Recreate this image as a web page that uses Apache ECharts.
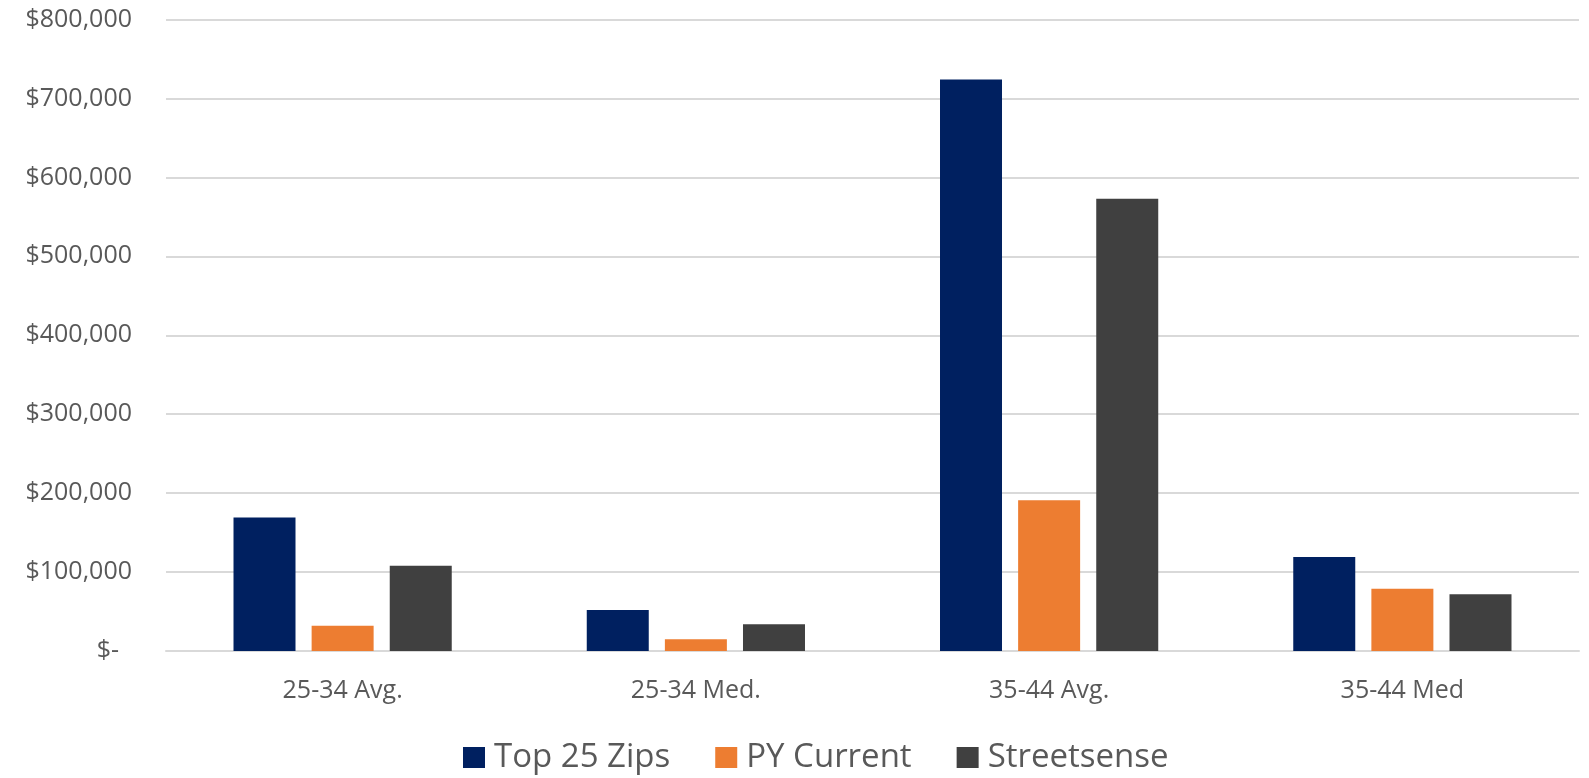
<!DOCTYPE html>
<html>
<head>
<meta charset="utf-8">
<script src="https://cdn.jsdelivr.net/npm/echarts@6/dist/echarts.min.js"></script>
<style>
    html, body { margin: 0; padding: 0; background: #fff; }
    #chart1 { width: 1589px; height: 778px; }
</style>
</head>
<body>
<div id="chart1"></div>
<script>
var categories = ["25-34 Avg.", "25-34 Med.", "35-44 Avg.", "35-44 Med"];
var seriesNames = ["Top 25 Zips", "PY Current", "Streetsense"];
var top25 = [169000, 52000, 724000, 119000];
var pyCurrent = [32000, 15000, 191000, 79000];
var streetsense = [108000, 34000, 573000, 72000];
var colors = ["#002060", "#ED7D31", "#404040"];

var mychart = echarts.init(document.getElementById("chart1"));

function money(v) {
    if (v === 0) return "{z|$-}";
    return "$" + v.toLocaleString("en-US");
}

var option = {
    animation: false,
    color: colors,
    textStyle: { fontFamily: "Open Sans" },
    grid: {
        left: 166,
        right: 10,
        top: 19.5,
        bottom: 127
    },
    legend: {
        data: seriesNames,
        left: 458,
        top: 736,
        itemWidth: 22,
        itemHeight: 21,
        itemGap: 45,
        icon: "rect",
        textStyle: {
            color: "#595959",
            fontSize: 33,
            padding: [0, 0, 0, 4]
        }
    },
    xAxis: [
        {
            type: "category",
            data: categories,
            axisTick: { show: false },
            axisLine: { lineStyle: { color: "#d9d9d9", width: 2 } },
            axisLabel: {
                color: "#595959",
                fontSize: 25,
                margin: 27
            }
        }
    ],
    yAxis: [
        {
            type: "value",
            min: 0,
            max: 800000,
            interval: 100000,
            axisLine: { show: false },
            axisTick: { show: false },
            splitLine: { lineStyle: { color: "#d9d9d9", width: 2 } },
            axisLabel: {
                color: "#595959",
                fontSize: 25,
                margin: 34,
                formatter: money,
                rich: {
                    z: { color: "#595959", fontSize: 25, fontFamily: "Open Sans", padding: [0, 13, 0, 0] }
                }
            }
        }
    ],
    series: [
        { name: seriesNames[0], type: "bar", barWidth: 62, barGap: "26%", data: top25 },
        { name: seriesNames[1], type: "bar", barWidth: 62, barGap: "26%", data: pyCurrent },
        { name: seriesNames[2], type: "bar", barWidth: 62, barGap: "26%", data: streetsense }
    ]
};
mychart.setOption(option);
</script>
</body>
</html>
